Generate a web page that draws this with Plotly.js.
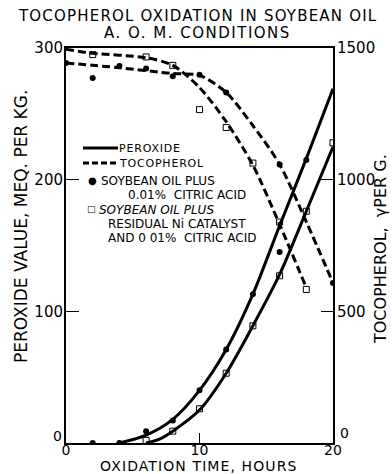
<!DOCTYPE html>
<html>
<head>
<meta charset="utf-8">
<script src="https://cdn.plot.ly/plotly-3.0.1.min.js"></script>
<style>html,body{margin:0;padding:0;background:#fff;}#chart{width:392px;height:474px;}</style>
</head>
<body>
<div id="chart"></div>
<script>
// Peroxide value (left axis, meq/kg)
const peroxCitricT = [2, 4, 6, 8, 10, 12, 14, 16, 18];
const peroxCitricV = [0, 0, 9, 17, 40, 71, 113, 145, 215];
const peroxCitricCurveT = [4, 6, 8, 10, 12, 14, 16, 18, 20];
const peroxCitricCurveV = [0, 6, 18, 40, 71, 113, 165, 216, 269];

const peroxNiT = [6, 8, 10, 12, 14, 16, 18, 20];
const peroxNiV = [2, 9, 26, 53, 89, 127, 176, 228];
const peroxNiCurveT = [6, 7, 8, 10, 12, 14, 16, 18, 20];
const peroxNiCurveV = [0, 3, 9, 25, 53, 89, 128, 176, 225];

// Tocopherol (right axis, gamma per g)
const tocoCitricT = [0, 2, 4, 6, 8, 10, 12, 16, 20];
const tocoCitricV = [1443, 1386, 1432, 1422, 1393, 1398, 1331, 1058, 608];
const tocoCitricCurveT = [0, 4, 8, 10, 12, 14, 16, 18, 20];
const tocoCitricCurveV = [1443, 1425, 1403, 1396, 1331, 1205, 1058, 840, 608];

const tocoNiT = [2, 6, 8, 10, 12, 14, 16, 18];
const tocoNiV = [1475, 1466, 1434, 1266, 1198, 1063, 839, 583];
const tocoNiCurveT = [0, 2, 6, 8, 10, 12, 14, 16, 18];
const tocoNiCurveV = [1495, 1480, 1463, 1434, 1350, 1220, 1055, 830, 590];

const xTicks = [0, 10, 20];
const yTicks = [0, 100, 200, 300];
const yTickText = ['', '100', '200', '300'];
const y2Ticks = [0, 500, 1000, 1500];
const y2TickText = ['', '500', '1000', '1500'];

const FONT = 'DejaVu Sans';
const solid = {color: '#000', width: 3, shape: 'spline', smoothing: 0.8};
const dashed = {color: '#000', width: 3, dash: '8px,4px', shape: 'spline', smoothing: 0.8};
const dot = {symbol: 'circle', size: 6, color: '#000'};
const sq = {symbol: 'square-open', size: 6, color: '#000', line: {width: 1, color: '#000'}};

const traces = [
  {x: peroxCitricCurveT, y: peroxCitricCurveV, mode: 'lines', line: solid},
  {x: peroxNiCurveT, y: peroxNiCurveV, mode: 'lines', line: solid},
  {x: tocoCitricCurveT, y: tocoCitricCurveV, mode: 'lines', line: dashed, yaxis: 'y2'},
  {x: tocoNiCurveT, y: tocoNiCurveV, mode: 'lines', line: dashed, yaxis: 'y2'},
  {x: peroxCitricT, y: peroxCitricV, mode: 'markers', marker: dot},
  {x: peroxNiT, y: peroxNiV, mode: 'markers', marker: sq},
  {x: tocoCitricT, y: tocoCitricV, mode: 'markers', marker: dot, yaxis: 'y2'},
  {x: tocoNiT, y: tocoNiV, mode: 'markers', marker: sq, yaxis: 'y2'}
];

function px(x){return (x-66)/267;}
function py(y){return (443-y)/395;}

const ann = [];
function txt(text, x, y, opts){
  ann.push(Object.assign({text: text, xref:'paper', yref:'paper', x: px(x), y: py(y),
    showarrow:false, xanchor:'left', yanchor:'middle',
    font:{family: FONT, size: 12, color:'#000'}}, opts||{}));
}
// titles
txt('<span style="letter-spacing:1.2px">TOCOPHEROL OXIDATION IN SOYBEAN OIL</span>', 197, 16, {xanchor:'center', font:{family:FONT, size:15, color:'#000'}});
txt('<span style="letter-spacing:1.5px">A. O. M. CONDITIONS</span>', 197, 33, {xanchor:'center', font:{family:FONT, size:15, color:'#000'}});
txt('<span style="letter-spacing:1.1px">OXIDATION TIME, HOURS</span>', 199, 465.5, {xanchor:'center', font:{family:FONT, size:14, color:'#000'}});
txt('PEROXIDE VALUE, MEQ. PER KG.', 21, 227, {xanchor:'center', textangle:-90, font:{family:FONT, size:17, color:'#000'}});
txt('TOCOPHEROL,  γPER G.', 380, 249, {xanchor:'center', textangle:-90, font:{family:FONT, size:16, color:'#000'}});
// zero labels of the two value axes (sit just above the time axis, as in the original)
txt(String(yTicks[0]), 57, 436, {xanchor:'center', font:{family:FONT, size:14, color:'#000'}});
txt(String(y2Ticks[0]), 344, 433, {xanchor:'center', font:{family:FONT, size:14, color:'#000'}});
// legend
txt('<span style="letter-spacing:0.8px">PEROXIDE</span>', 117, 148, {font:{family:FONT, size:11, color:'#000'}});
txt('<span style="letter-spacing:0.8px">TOCOPHEROL</span>', 117, 163, {font:{family:FONT, size:11, color:'#000'}});
txt('●', 86, 180, {font:{family:FONT, size:10, color:'#000'}});
txt('SOYBEAN OIL PLUS', 99, 181);
txt('0.01%  CITRIC ACID', 126, 194.5);
txt('□', 85, 209, {font:{family:FONT, size:9, color:'#000'}});
txt('<i>SOYBEAN OIL PLUS</i>', 97, 210);
txt('RESIDUAL Ni CATALYST', 106, 224);
txt('AND 0 01%  CITRIC ACID', 106, 237.5);

const shapes = [
  {type:'line', xref:'paper', yref:'paper', x0: px(83), x1: px(118), y0: py(148), y1: py(148), line:{color:'#000', width:3}},
  {type:'line', xref:'paper', yref:'paper', x0: px(83), x1: px(118), y0: py(163), y1: py(163), line:{color:'#000', width:3, dash:'6px,3px'}}
];

const axFont = {family: FONT, size: 15, color: '#000'};
const layout = {
  width: 392, height: 474,
  margin: {l: 66, r: 59, t: 48, b: 31, pad: 0},
  paper_bgcolor: '#fff', plot_bgcolor: '#fff',
  showlegend: false,
  font: {family: FONT, color: '#000'},
  xaxis: {range: [0, 20], tickvals: xTicks, ticktext: xTicks.map(String), ticks: 'inside', ticklen: 10, tickwidth: 1.5, tickcolor: '#000',
    ticklabelstandoff: -7,
    showline: true, linewidth: 2, linecolor: '#000', mirror: true, showgrid: false, zeroline: false,
    tickfont: {family: FONT, size: 14, color: '#000'}},
  yaxis: {range: [0, 300], tickvals: yTicks, ticktext: yTickText, ticks: 'inside', ticklen: 13, tickwidth: 1.5, tickcolor: '#000',
    ticklabelstandoff: -2,
    showline: true, linewidth: 2, linecolor: '#000', showgrid: false, zeroline: false, tickfont: axFont},
  yaxis2: {range: [0, 1500], overlaying: 'y', side: 'right', tickvals: y2Ticks, ticktext: y2TickText, ticks: 'inside', ticklen: 12, tickwidth: 1.5, tickcolor: '#000',
    ticklabelstandoff: -1,
    showline: true, linewidth: 2, linecolor: '#000', showgrid: false, zeroline: false, tickfont: axFont},
  annotations: ann,
  shapes: shapes
};
Plotly.newPlot('chart', traces, layout, {staticPlot: true, displayModeBar: false});
</script>
</body>
</html>
